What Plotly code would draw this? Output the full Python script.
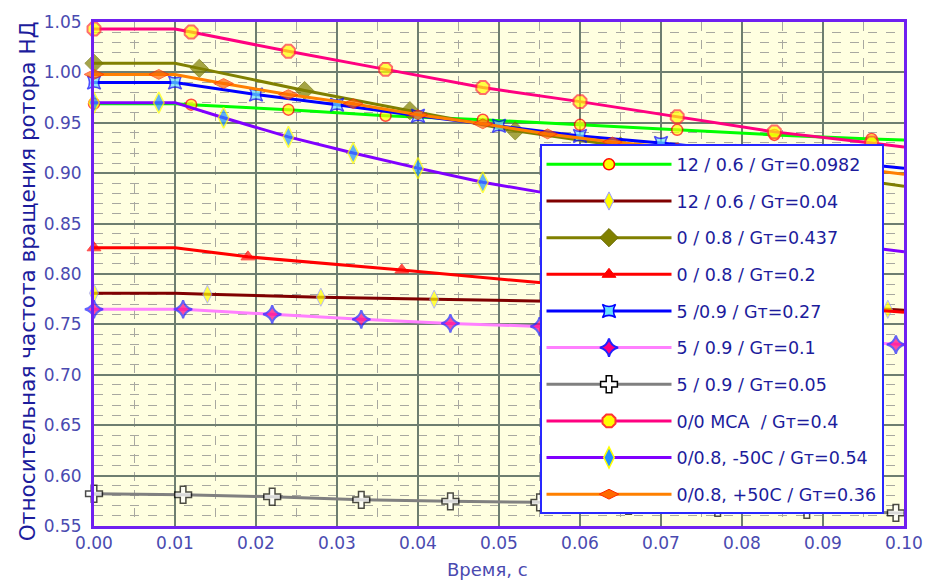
import plotly.graph_objects as go

# Time, s
T_GREEN = [0.0, 0.010, 0.012, 0.024, 0.036, 0.048, 0.060, 0.072, 0.084, 0.096, 0.100]
V_GREEN = [0.969, 0.969, 0.968, 0.963, 0.957, 0.953, 0.948, 0.943, 0.938, 0.934, 0.933]
M_GREEN = [1, 0, 1, 1, 1, 1, 1, 1, 1, 1, 0]

T_MAROON = [0.0, 0.010, 0.014, 0.028, 0.042, 0.056, 0.070, 0.084, 0.098, 0.100]
V_MAROON = [0.781, 0.781, 0.780, 0.777, 0.775, 0.773, 0.770, 0.767, 0.765, 0.764]
M_MAROON = [1, 0, 1, 1, 1, 1, 1, 1, 1, 0]

T_OLIVE = [0.0, 0.010, 0.013, 0.026, 0.039, 0.052, 0.065, 0.078, 0.091, 0.100]
V_OLIVE = [1.009, 1.009, 1.004, 0.982, 0.962, 0.942, 0.927, 0.912, 0.897, 0.887]
M_OLIVE = [1, 0, 1, 1, 1, 1, 1, 1, 1, 0]

T_RED = [0.0, 0.010, 0.019, 0.038, 0.057, 0.076, 0.095, 0.100]
V_RED = [0.826, 0.826, 0.817, 0.804, 0.790, 0.777, 0.765, 0.762]
M_RED = [1, 0, 1, 1, 1, 1, 1, 0]

T_BLUE = [0.0, 0.010, 0.020, 0.030, 0.040, 0.050, 0.060, 0.070, 0.080, 0.090, 0.100]
V_BLUE = [0.990, 0.990, 0.978, 0.968, 0.957, 0.947, 0.937, 0.930, 0.922, 0.913, 0.905]
M_BLUE = [1, 1, 1, 1, 1, 1, 1, 1, 1, 1, 0]

T_PINK = [0.0, 0.010, 0.011, 0.022, 0.033, 0.044, 0.055, 0.066, 0.077, 0.088, 0.099, 0.100]
V_PINK = [0.765, 0.765, 0.765, 0.760, 0.755, 0.751, 0.748, 0.744, 0.740, 0.735, 0.730, 0.730]
M_PINK = [1, 0, 1, 1, 1, 1, 1, 1, 1, 1, 1, 0]

T_GRAY = [0.0, 0.011, 0.022, 0.033, 0.044, 0.055, 0.066, 0.077, 0.088, 0.099, 0.100]
V_GRAY = [0.582, 0.581, 0.579, 0.576, 0.5745, 0.5735, 0.570, 0.568, 0.566, 0.563, 0.563]
M_GRAY = [1, 1, 1, 1, 1, 1, 1, 1, 1, 1, 0]

T_MCA = [0.0, 0.010, 0.012, 0.024, 0.036, 0.048, 0.060, 0.072, 0.084, 0.096, 0.100]
V_MCA = [1.043, 1.043, 1.040, 1.021, 1.003, 0.985, 0.971, 0.956, 0.941, 0.930, 0.926]
M_MCA = [1, 0, 1, 1, 1, 1, 1, 1, 1, 1, 0]

T_COLD = [0.0, 0.008, 0.010, 0.016, 0.024, 0.032, 0.040, 0.048, 0.056, 0.064, 0.072, 0.080, 0.088, 0.096, 0.100]
V_COLD = [0.970, 0.970, 0.970, 0.955, 0.936, 0.920, 0.905, 0.891, 0.880, 0.868, 0.857, 0.846, 0.836, 0.826, 0.822]
M_COLD = [1, 1, 0, 1, 1, 1, 1, 1, 1, 1, 1, 1, 1, 1, 0]

T_HOT = [0.0, 0.008, 0.010, 0.016, 0.024, 0.032, 0.040, 0.048, 0.056, 0.064, 0.072, 0.080, 0.088, 0.096, 0.100]
V_HOT = [0.998, 0.998, 0.998, 0.989, 0.978, 0.969, 0.958, 0.949, 0.939, 0.931, 0.925, 0.918, 0.910, 0.903, 0.899]
M_HOT = [1, 1, 0, 1, 1, 1, 1, 1, 1, 1, 1, 1, 1, 1, 0]

NAMES = [
    "12 / 0.6 / Gт=0.0982",
    "12 / 0.6 / Gт=0.04",
    "0 / 0.8 / Gт=0.437",
    "0 / 0.8 / Gт=0.2",
    "5 /0.9 / Gт=0.27",
    "5 / 0.9 / Gт=0.1",
    "5 / 0.9 / Gт=0.05",
    "0/0 MCA  / Gт=0.4",
    "0/0.8, -50C / Gт=0.54",
    "0/0.8, +50C / Gт=0.36",
]

SERIES = [
    (T_GREEN, V_GREEN, M_GREEN),
    (T_MAROON, V_MAROON, M_MAROON),
    (T_OLIVE, V_OLIVE, M_OLIVE),
    (T_RED, V_RED, M_RED),
    (T_BLUE, V_BLUE, M_BLUE),
    (T_PINK, V_PINK, M_PINK),
    (T_GRAY, V_GRAY, M_GRAY),
    (T_MCA, V_MCA, M_MCA),
    (T_COLD, V_COLD, M_COLD),
    (T_HOT, V_HOT, M_HOT),
]

# line colour, symbol, size, fill, outline colour, outline width
STYLES = [
    ("#00FF00", "circle", 11, "#FFFF00", "#FF0000", 1.5),
    ("#800000", "diamond-tall", 13, "#FFFF00", "#9999FF", 1),
    ("#808000", "diamond", 14, "#808000", "#6B6B00", 1),
    ("#FF0000", "triangle-up", 12, "#FF0000", "#FF0000", 1),
    ("#0000FF", "star-square", 12, "#66E0FF", "#0000FF", 1.5),
    ("#FF80FF", "star-diamond", 13, "#FF0080", "#2020FF", 2),
    ("#808080", "cross", 14, "#FFFFFF", "#000000", 1.5),
    ("#FF0080", "octagon", 14, "#FFFF00", "#FF3333", 2),
    ("#8000FF", "diamond-tall", 15, "#1E90FF", "#FFFF00", 1.5),
    ("#FF8000", "diamond-wide", 14, "#FF6A00", "#FF2A00", 1),
]

FONT = "DejaVu Sans"
TEXT_BLUE = "#1C1C9C"
TICK_BLUE = "#4A4AB0"

fig = go.Figure()
for i, ((t, v, m), name, sty) in enumerate(zip(SERIES, NAMES, STYLES)):
    color, sym, size, fill, lcol, lw = sty
    # data curve; marker drawn only at the sampled points
    fig.add_trace(go.Scatter(
        x=t, y=v, name=name, mode="lines+markers", showlegend=False,
        line=dict(color=color, width=3),
        marker=dict(symbol=sym,
                    size=[size if k else 0 for k in m],
                    color=fill,
                    line=dict(color=lcol, width=[lw if k else 0 for k in m])),
        cliponaxis=False,
    ))
    # legend entry with uniform marker
    fig.add_trace(go.Scatter(
        x=[None], y=[None], name=name, mode="lines+markers",
        legendgroup=f"g{i}",
        line=dict(color=color, width=3),
        marker=dict(symbol=sym, size=size, color=fill, line=dict(color=lcol, width=lw)),
    ))

axis_line = "#7020F0"
fig.update_xaxes(
    range=[0, 0.1], dtick=0.01, tickformat=".2f",
    showline=True, mirror=True, linecolor=axis_line, linewidth=3,
    showgrid=True, gridcolor="#6E7E70", gridwidth=2, zeroline=False,
    ticks="", tickfont=dict(family=FONT, size=17, color=TICK_BLUE),
    minor=dict(dtick=0.005, showgrid=True, gridcolor="#A8A8A0", griddash="dash", gridwidth=1),
)
fig.update_yaxes(
    range=[0.55, 1.05], dtick=0.05, tickformat=".2f",
    showline=True, mirror=True, linecolor=axis_line, linewidth=3,
    showgrid=True, gridcolor="#6E7E70", gridwidth=2, zeroline=False,
    ticks="", tickfont=dict(family=FONT, size=17, color=TICK_BLUE),
    ticklabelstandoff=6,
    minor=dict(dtick=0.01, showgrid=True, gridcolor="#A8A8A0", griddash="dash", gridwidth=1),
)

fig.update_layout(
    width=935, height=585,
    margin=dict(l=94, r=30, t=16, b=59),
    paper_bgcolor="white", plot_bgcolor="#FFFFE0",
    font=dict(family=FONT, color=TEXT_BLUE),
    legend=dict(
        x=0.55, y=0.757, xanchor="left", yanchor="top",
        bgcolor="white", bordercolor="#2828FF", borderwidth=2,
        font=dict(family=FONT, size=17.5, color=TEXT_BLUE),
        itemwidth=125, tracegroupgap=10.9,
    ),
    annotations=[
        dict(text="Относительная частота вращения ротора НД", xref="paper", yref="paper",
             x=-67 / 811, y=0.486, xanchor="center", yanchor="middle", textangle=-90,
             showarrow=False, font=dict(family=FONT, size=21.6, color=TEXT_BLUE)),
        dict(text="Время, с", xref="paper", yref="paper",
             x=(488 - 94) / 811, y=-44 / 510, xanchor="center", yanchor="middle",
             showarrow=False, font=dict(family=FONT, size=18, color=TICK_BLUE)),
    ],
)

fig.write_html("out.html")
